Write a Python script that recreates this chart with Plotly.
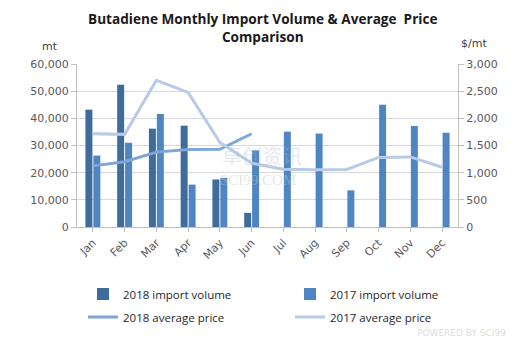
import plotly.graph_objects as go

months = ["Jan", "Feb", "Mar", "Apr", "May", "Jun", "Jul", "Aug", "Sep", "Oct", "Nov", "Dec"]
vol_2018 = [43200, 52400, 36200, 37300, 17500, 5200]
vol_2017 = [26300, 31000, 41600, 15600, 18100, 28200, 35100, 34400, 13500, 45000, 37200, 34700]
price_2018 = [1125, 1200, 1378, 1426, 1430, 1716]
price_2017 = [1716, 1705, 2700, 2478, 1555, 1175, 1065, 1052, 1060, 1280, 1290, 1100]

# plot-area geometry (pixels)
L, R, T, B = 77, 458, 64, 227
PW, PH = R - L, B - T


def px(x):
    return (x - L) / PW


def py(y):
    return (B - y) / PH


fig = go.Figure()
fig.add_trace(go.Bar(x=months[:len(vol_2018)], y=vol_2018, name="2018 import volume",
                     marker=dict(color="#3E6D9C", line=dict(width=0)), legend="legend"))
fig.add_trace(go.Bar(x=months, y=vol_2017, name="2017 import volume",
                     marker=dict(color="#4F86C2", line=dict(width=0)), legend="legend2"))
fig.add_trace(go.Scatter(x=months[:len(price_2018)], y=price_2018, name="2018 average price",
                         mode="lines", line=dict(color="#7EA6D8", width=3), yaxis="y2",
                         legend="legend3"))
fig.add_trace(go.Scatter(x=months, y=price_2017, name="2017 average price",
                         mode="lines", line=dict(color="#B7CAE6", width=3), yaxis="y2",
                         legend="legend4"))

tickfont = dict(family="DejaVu Sans", size=11, color="#595959")
legfont = dict(family="Open Sans", size=11.5, color="#262626")
leg_common = dict(orientation="h", xanchor="left", yanchor="middle", itemwidth=30,
                  font=legfont, bgcolor="rgba(0,0,0,0)")

fig.update_layout(
    width=525, height=340,
    margin=dict(l=L, r=525 - R, t=T, b=340 - B, autoexpand=False),
    paper_bgcolor="white", plot_bgcolor="white",
    barmode="group", bargap=0.5, bargroupgap=0.12,
    showlegend=True,
    xaxis=dict(categoryorder="array", categoryarray=months, tickangle=-45,
               tickfont=tickfont, showline=True, linecolor="#BFBFBF",
               ticks="outside", ticklen=4, tickcolor="#BFBFBF", showgrid=False),
    yaxis=dict(range=[0, 60000], dtick=10000, tickformat=",", tickfont=tickfont,
               showgrid=True, gridcolor="#D9D9D9", showline=True, linecolor="#BFBFBF",
               ticks="outside", ticklen=5, tickcolor="#BFBFBF", zeroline=False),
    yaxis2=dict(range=[0, 3000], dtick=500, tickformat=",", tickfont=tickfont,
                overlaying="y", side="right", showgrid=False, showline=True,
                linecolor="#BFBFBF", ticks="outside", ticklen=5, tickcolor="#BFBFBF",
                zeroline=False),
    legend=dict(x=px(83), y=py(294), **leg_common),
    legend2=dict(x=px(290), y=py(294), **leg_common),
    legend3=dict(x=px(83), y=py(317), **leg_common),
    legend4=dict(x=px(290), y=py(317), **leg_common),
    annotations=[
        dict(text="<b>Butadiene Monthly Import Volume & Average  Price<br>Comparison</b>",
             x=px(263), y=py(27), xref="paper", yref="paper", showarrow=False,
             xanchor="center", yanchor="middle", align="center",
             font=dict(family="Open Sans", size=13.6, color="#1a1a1a")),
        dict(text="mt", x=px(40), y=py(38), xref="paper", yref="paper", showarrow=False,
             font=dict(family="DejaVu Sans", size=11, color="#404040")),
        dict(text="$/mt", x=px(489), y=py(35), xref="paper", yref="paper", showarrow=False,
             font=dict(family="DejaVu Sans", size=11, color="#404040")),
        dict(text="卓创资讯", x=px(262), y=py(155), xref="paper", yref="paper", showarrow=False,
             font=dict(family="Noto Sans CJK SC", size=20, color="rgba(175,190,210,0.35)")),
        dict(text="SCI99.COM", x=px(258), y=py(190), xref="paper", yref="paper", showarrow=False,
             font=dict(family="Liberation Serif", size=15, color="rgba(195,195,195,0.45)")),
        dict(text="POWERED BY SCI99", x=px(508), y=py(333), xref="paper", yref="paper",
             showarrow=False, xanchor="right", yanchor="middle",
             font=dict(family="DejaVu Sans", size=9, color="rgba(205,205,205,0.7)")),
    ],
)

fig.write_html("out.html")
